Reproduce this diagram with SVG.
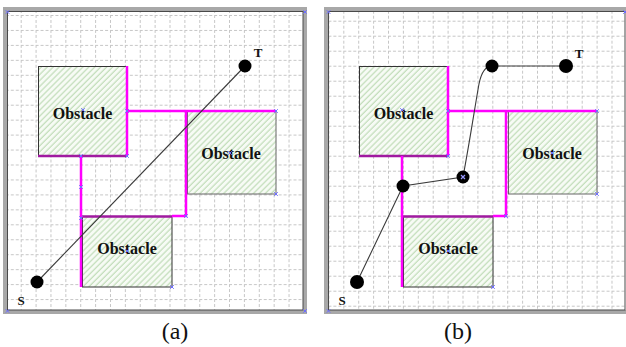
<svg xmlns="http://www.w3.org/2000/svg" xmlns:xlink="http://www.w3.org/1999/xlink" width="626" height="347" viewBox="0 0 626 347">
<style>
.frame{fill:none;stroke:#a8a8a8;stroke-width:4}
.inner{fill:none;stroke:#4a4a4a;stroke-width:1}
.obs{fill:url(#hatch);stroke:#333;stroke-width:1}
.lbl{font-family:"Liberation Serif","Times New Roman",serif;font-weight:bold;font-size:16px;fill:#111;text-anchor:middle}
.st{font-family:"Liberation Serif","Times New Roman",serif;font-weight:bold;font-size:13px;fill:#111;text-anchor:middle}
.cap{font-family:"Liberation Serif","Times New Roman",serif;font-size:24px;fill:#111;text-anchor:middle}
.mag{fill:none;stroke:#ff00ff;stroke-width:2.5}
.pur{fill:none;stroke:#a01aa0;stroke-width:2.5}
.path{fill:none;stroke:#3a3a3a;stroke-width:1.1}
.dot{fill:#000}
.mk{stroke:#6f6fff;stroke-width:1}
</style>
<defs>
<pattern id="gridA" patternUnits="userSpaceOnUse" x="20.7" y="15" width="14.88" height="14.95">
<path d="M0.5,0 V14.95 M0,0.5 H14.88" fill="none" stroke="#c6c6c6" stroke-width="1" stroke-dasharray="3 2"/>
</pattern>
<pattern id="gridB" patternUnits="userSpaceOnUse" x="343.3" y="20.7" width="14.9" height="15">
<path d="M0.5,0 V15 M0,0.5 H14.9" fill="none" stroke="#c6c6c6" stroke-width="1" stroke-dasharray="3 2"/>
</pattern>
<pattern id="hatch" patternUnits="userSpaceOnUse" width="4.2" height="4.2" patternTransform="rotate(45)">
<rect width="4.2" height="4.2" fill="#f7fbf5"/>
<line x1="1" y1="0" x2="1" y2="4.2" stroke="#bcdab3" stroke-width="1.1"/>
</pattern>
<path id="x" d="M-1.8,-1.8 L1.8,1.8 M-1.8,1.8 L1.8,-1.8" class="mk"/>
</defs>
<rect width="626" height="347" fill="#fff"/>

<!-- Panel (a) -->
<g id="panel-a">
<rect x="7" y="11" width="296" height="299" fill="#fff"/>
<rect x="7" y="11" width="296" height="299" fill="url(#gridA)"/>
<rect class="frame" x="5" y="9" width="300" height="303"/>
<rect class="inner" x="7.5" y="11.5" width="295.5" height="298.5"/>
</g>

<!-- Panel (b) -->
<g id="panel-b">
<rect x="328" y="11" width="298" height="299" fill="#fff"/>
<rect x="328" y="11" width="298" height="299" fill="url(#gridB)"/>
<rect class="frame" x="326" y="9" width="302" height="303"/>
<rect class="inner" x="328.5" y="11.5" width="296.5" height="298.5"/>
</g>

<g id="obstacle-a1"><rect class="obs" x="38.5" y="66.5" width="88.5" height="89.5"/><text class="lbl" x="82.5" y="119">Obstacle</text></g>
<g id="obstacle-a2"><rect class="obs" x="187.5" y="111.5" width="88.5" height="82.5" style="stroke:#666"/><text class="lbl" x="231" y="159">Obstacle</text></g>
<g id="obstacle-a3"><rect class="obs" x="82.5" y="216.5" width="89.5" height="70.5"/><text class="lbl" x="127" y="254">Obstacle</text></g>

<g id="obstacle-b1"><rect class="obs" x="359.5" y="66.5" width="88.5" height="89.5"/><text class="lbl" x="403.5" y="119">Obstacle</text></g>
<g id="obstacle-b2"><rect class="obs" x="508.5" y="111.5" width="88.5" height="82.5" style="stroke:#666"/><text class="lbl" x="552" y="159">Obstacle</text></g>
<g id="obstacle-b3"><rect class="obs" x="403.5" y="216.5" width="89.5" height="70.5"/><text class="lbl" x="448" y="254">Obstacle</text></g>

<g id="connectors">
<!-- visibility boundary (a) -->
<path class="pur" d="M38,156 H127 M82,216.5 H172"/>
<path class="mag" d="M127,66 V156 M127,111 H276 M81,156 V287 M172,216 H186 V111"/>
<!-- visibility boundary (b) -->
<path class="pur" d="M359,156 H448 M403,216.5 H493"/>
<path class="mag" d="M448,66 V156 M448,111 H597 M402,156 V287 M493,216 H506 V111"/>
<!-- paths -->
<line class="path" x1="37" y1="282" x2="245" y2="66"/>
<path class="path" d="M357,282 L403,186 L463,177 C470,140 476,100 479,84 C481,74 485,66 492,66 L566,66"/>
</g>

<g id="node-S-a"><circle class="dot" cx="37" cy="282" r="6.5"/><text class="st" x="21" y="305">S</text></g>
<g id="node-T-a"><circle class="dot" cx="245" cy="66" r="6.5"/><text class="st" x="258" y="57">T</text></g>
<g id="node-S-b"><circle class="dot" cx="357" cy="282" r="7"/><text class="st" x="342" y="305">S</text></g>
<g id="node-w1-b"><circle class="dot" cx="403" cy="186" r="6.5"/></g>
<g id="node-w2-b"><circle class="dot" cx="463" cy="177" r="6.5"/></g>
<g id="node-w3-b"><circle class="dot" cx="492" cy="66" r="6.5"/></g>
<g id="node-T-b"><circle class="dot" cx="566" cy="66" r="7"/><text class="st" x="579" y="58">T</text></g>

<g id="markers">
<use href="#x" x="7.5" y="12"/><use href="#x" x="305" y="12"/><use href="#x" x="7.5" y="311"/><use href="#x" x="305" y="311"/>
<use href="#x" x="127" y="111"/><use href="#x" x="276" y="111"/><use href="#x" x="127" y="156"/><use href="#x" x="81" y="156"/>
<use href="#x" x="81" y="187"/><use href="#x" x="81" y="218"/><use href="#x" x="186" y="216"/><use href="#x" x="276" y="194"/>
<use href="#x" x="172" y="287"/><use href="#x" x="83" y="110"/><use href="#x" x="230" y="153"/><use href="#x" x="127" y="251"/>
<use href="#x" x="328.5" y="12"/><use href="#x" x="625" y="12"/><use href="#x" x="328.5" y="311"/>
<use href="#x" x="448" y="111"/><use href="#x" x="597" y="111"/><use href="#x" x="448" y="156"/><use href="#x" x="597" y="194"/>
<use href="#x" x="493" y="287"/><use href="#x" x="506" y="216"/><use href="#x" x="402" y="110"/><use href="#x" x="552" y="153"/>
<use href="#x" x="448" y="251"/>
<path d="M461,175 L465,179 M461,179 L465,175" stroke="#9a9aff" stroke-width="1.2"/>
</g>

<text class="cap" x="175" y="339">(a)</text>
<text class="cap" x="458" y="339">(b)</text>
</svg>
